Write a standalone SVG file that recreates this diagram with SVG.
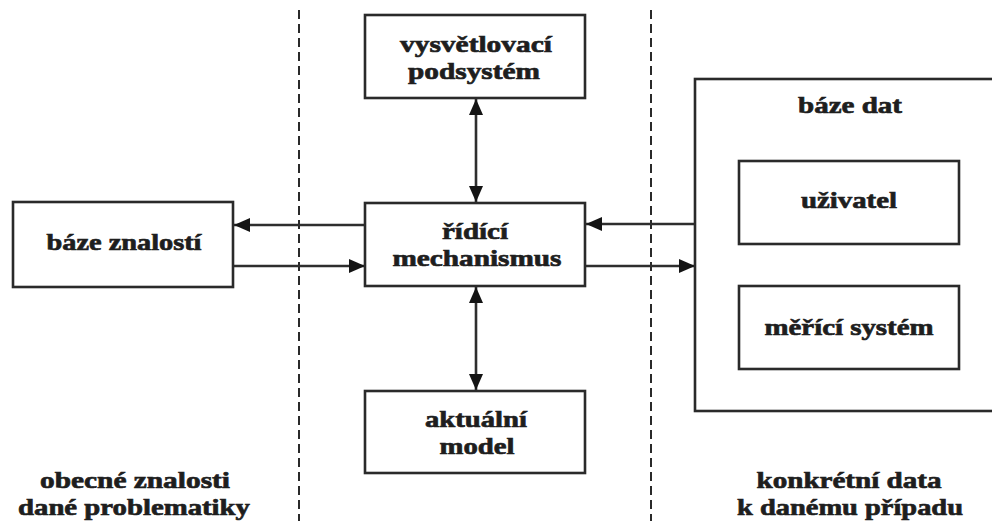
<svg xmlns="http://www.w3.org/2000/svg" width="992" height="521" viewBox="0 0 992 521">
  <defs>
    <marker id="arrow" viewBox="0 0 16 14" refX="16" refY="7" markerWidth="16" markerHeight="14" markerUnits="userSpaceOnUse" orient="auto-start-reverse">
      <path d="M0,0 L16,7 L0,14 Z" fill="#141414"/>
    </marker>
  </defs>
  <style>
    .box { fill: #fff; stroke: #2a2a2a; stroke-width: 2.6; }
    .lbl { font-family: "Liberation Serif", "Times New Roman", serif; font-weight: bold; font-size: 24px; fill: #1e1e1e; stroke: #1e1e1e; stroke-width: 0.7; text-anchor: middle; }
    .link { stroke: #2e2e2e; stroke-width: 2.6; fill: none; }
    .sep { stroke: #2a2a2a; stroke-width: 2; stroke-dasharray: 9 5; fill: none; }
  </style>
  <rect width="992" height="521" fill="#fff"/>

  <!-- zone separators -->
  <g id="separators">
    <line class="sep" x1="299" y1="10" x2="299" y2="521"/>
    <line class="sep" x1="651" y1="10" x2="651" y2="521"/>
  </g>

  <!-- connectors -->
  <g id="connectors">
    <line class="link" x1="365" y1="225" x2="234" y2="225" marker-end="url(#arrow)"/>
    <line class="link" x1="234" y1="266" x2="365" y2="266" marker-end="url(#arrow)"/>
    <line class="link" x1="695" y1="224" x2="586" y2="224" marker-end="url(#arrow)"/>
    <line class="link" x1="586" y1="266" x2="695" y2="266" marker-end="url(#arrow)"/>
    <line class="link" x1="476" y1="99" x2="476" y2="202" marker-start="url(#arrow)" marker-end="url(#arrow)"/>
    <line class="link" x1="476" y1="287" x2="476" y2="390" marker-start="url(#arrow)" marker-end="url(#arrow)"/>
  </g>

  <g id="baze-znalosti">
    <rect class="box" x="13" y="202" width="220" height="85"/>
    <text class="lbl" x="124" y="250" textLength="155" lengthAdjust="spacingAndGlyphs">báze znalostí</text>
  </g>

  <g id="vysvetlovaci-podsystem">
    <rect class="box" x="365" y="15" width="220" height="83"/>
    <text class="lbl" x="476" y="52" textLength="152" lengthAdjust="spacingAndGlyphs">vysvětlovací</text>
    <text class="lbl" x="474" y="79" textLength="132" lengthAdjust="spacingAndGlyphs">podsystém</text>
  </g>

  <g id="ridici-mechanismus">
    <rect class="box" x="365" y="203" width="220" height="83"/>
    <text class="lbl" x="475" y="239" textLength="66" lengthAdjust="spacingAndGlyphs">řídící</text>
    <text class="lbl" x="477" y="266" textLength="169" lengthAdjust="spacingAndGlyphs">mechanismus</text>
  </g>

  <g id="aktualni-model">
    <rect class="box" x="365" y="391" width="220" height="82"/>
    <text class="lbl" x="476" y="427" textLength="102" lengthAdjust="spacingAndGlyphs">aktuální</text>
    <text class="lbl" x="477" y="454" textLength="75" lengthAdjust="spacingAndGlyphs">model</text>
  </g>

  <g id="baze-dat">
    <rect class="box" x="695" y="79" width="310" height="332"/>
    <text class="lbl" x="850" y="113" textLength="104" lengthAdjust="spacingAndGlyphs">báze dat</text>
  </g>

  <g id="uzivatel">
    <rect class="box" x="739" y="161" width="220" height="83"/>
    <text class="lbl" x="849" y="208" textLength="96" lengthAdjust="spacingAndGlyphs">uživatel</text>
  </g>

  <g id="merici-system">
    <rect class="box" x="739" y="286" width="220" height="83"/>
    <text class="lbl" x="849" y="335" textLength="169" lengthAdjust="spacingAndGlyphs">měřící systém</text>
  </g>

  <g id="zone-labels">
    <text class="lbl" x="135" y="488" textLength="190" lengthAdjust="spacingAndGlyphs">obecné znalosti</text>
    <text class="lbl" x="134" y="515" textLength="232" lengthAdjust="spacingAndGlyphs">dané problematiky</text>
    <text class="lbl" x="849" y="488" textLength="185" lengthAdjust="spacingAndGlyphs">konkrétní data</text>
    <text class="lbl" x="850" y="515" textLength="226" lengthAdjust="spacingAndGlyphs">k danému případu</text>
  </g>
</svg>
